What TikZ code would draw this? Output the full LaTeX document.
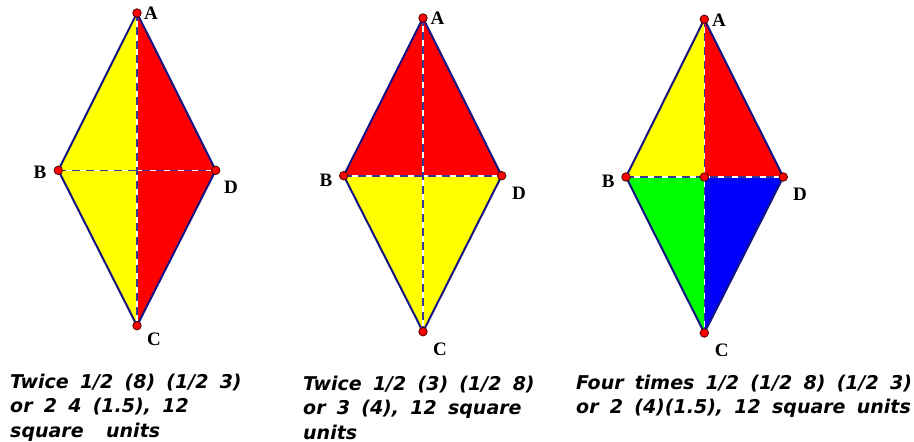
\documentclass[tikz,border=0pt]{standalone}
\usepackage{fontspec}
\setmainfont{Liberation Serif}
\newfontfamily\capfont[WordSpace=1.7]{DejaVu Sans}
\begin{document}
\begin{tikzpicture}[x=1pt,y=-1pt,
  pt/.style={circle,draw=black!70!red,fill=red,line width=0.8pt,inner sep=0pt,minimum size=8.5pt},
  edge/.style={draw=edgeblue,line width=2pt,line join=round},
  diagw/.style={draw=white,line width=1.6pt},
  diagb/.style={draw=edgeblue!85!white,line width=1.6pt,dash pattern=on 8pt off 6pt},
  vlab/.style={font=\bfseries\fontsize{19}{19}\selectfont,inner sep=0pt},
  captext/.style={font=\capfont\bfseries\itshape\fontsize{19}{19}\selectfont,anchor=base west,inner sep=0pt}]
\definecolor{edgeblue}{RGB}{20,20,130}
\definecolor{fyellow}{RGB}{255,255,0}
\definecolor{fred}{RGB}{255,0,0}
\definecolor{fgreen}{RGB}{0,255,0}
\definecolor{fblue}{RGB}{0,0,255}
\useasboundingbox[fill=white] (0,0) rectangle (914,442);
% ---------- figure 1 ----------
\coordinate (A1) at (137,13);
\coordinate (B1) at (58.3,170.3);
\coordinate (D1) at (215.7,170.3);
\coordinate (C1) at (137,325.7);
\fill[fyellow] (A1) -- (B1) -- (C1) -- cycle;
\fill[fred] (A1) -- (D1) -- (C1) -- cycle;
\draw[diagw] (A1) -- (C1) (B1) -- (D1);
\draw[diagb] (A1) -- (C1) (B1) -- (D1);
\draw[edge] (A1) -- (B1) -- (C1) -- (D1) -- cycle;
\node[pt] (pA1) at (A1) {};
\node[pt] (pB1) at (B1) {};
\node[pt] (pD1) at (D1) {};
\node[pt] (pC1) at (C1) {};
\node[vlab] (lA1) at (151,13) {A};
\node[vlab] (lB1) at (40,172) {B};
\node[vlab] (lD1) at (231,187) {D};
\node[vlab] (lC1) at (154,339) {C};
% ---------- figure 2 ----------
\coordinate (A2) at (423,18);
\coordinate (B2) at (343.7,175.7);
\coordinate (D2) at (501.7,175.7);
\coordinate (C2) at (423,331.7);
\fill[fred] (A2) -- (B2) -- (D2) -- cycle;
\fill[fyellow] (B2) -- (C2) -- (D2) -- cycle;
\draw[diagw] (A2) -- (C2) (B2) -- (D2);
\draw[diagb] (A2) -- (C2) (B2) -- (D2);
\draw[edge] (A2) -- (B2) -- (C2) -- (D2) -- cycle;
\node[pt] (pA2) at (A2) {};
\node[pt] (pB2) at (B2) {};
\node[pt] (pD2) at (D2) {};
\node[pt] (pC2) at (C2) {};
\node[vlab] (lA2) at (437.5,18) {A};
\node[vlab] (lB2) at (326,180) {B};
\node[vlab] (lD2) at (519,193) {D};
\node[vlab] (lC2) at (440,349) {C};
% ---------- figure 3 ----------
\coordinate (A3) at (704.3,19.3);
\coordinate (B3) at (626,177);
\coordinate (D3) at (783.3,177);
\coordinate (C3) at (704.3,333);
\coordinate (O3) at (704.3,177);
\fill[fyellow] (A3) -- (B3) -- (O3) -- cycle;
\fill[fred] (A3) -- (O3) -- (D3) -- cycle;
\fill[fgreen] (B3) -- (C3) -- (O3) -- cycle;
\fill[fblue] (O3) -- (C3) -- (D3) -- cycle;
\draw[diagw] (A3) -- (C3) (B3) -- (D3);
\draw[diagb] (A3) -- (C3) (B3) -- (D3);
\draw[edge] (A3) -- (B3) -- (C3) -- (D3) -- cycle;
\node[pt] (pA3) at (A3) {};
\node[pt] (pB3) at (B3) {};
\node[pt] (pD3) at (D3) {};
\node[pt] (pC3) at (C3) {};
\node[pt] (pO3) at (O3) {};
\node[vlab] (lA3) at (719,20) {A};
\node[vlab] (lB3) at (608.3,181) {B};
\node[vlab] (lD3) at (800,194) {D};
\node[vlab] (lC3) at (721.7,350) {C};
% ---------- captions ----------
\node[captext] (t11) at (10,388) {Twice 1/2 (8) (1/2 3)};
\node[captext] (t12) at (10,412.5) {or 2 4 (1.5), 12};
\node[captext] (t13) at (10,437) {square\ \ units};
\node[captext] (t21) at (303,390) {Twice 1/2 (3) (1/2 8)};
\node[captext] (t22) at (303,414.5) {or 3 (4), 12 square};
\node[captext] (t23) at (303,439) {units};
\node[captext] (t31) at (576,389) {Four times 1/2 (1/2 8) (1/2 3)};
\node[captext] (t32) at (576,413.5) {or 2 (4)(1.5), 12 square units};
\end{tikzpicture}
\end{document}
